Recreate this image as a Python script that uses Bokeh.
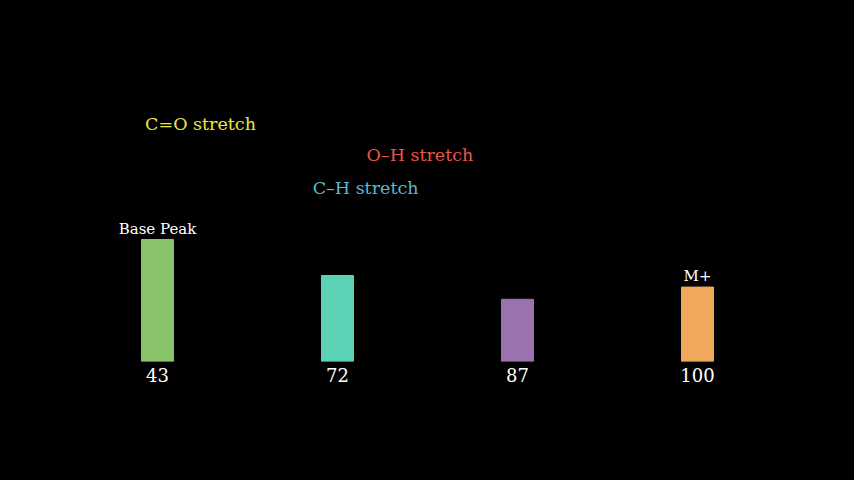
from bokeh.plotting import figure
from bokeh.models import ColumnDataSource, Range1d, FactorRange, Label
from bokeh.embed import file_html
from bokeh.resources import INLINE

mz = ["43", "72", "87", "100"]
intensity = [100, 70.5, 51, 61]
colors = ["#89C46A", "#5BD1B5", "#9B72B0", "#F0A95C"]
peak_labels = ["Base Peak", "", "", "M+"]
annotations = ["C=O stretch", "O\u2013H stretch", "C\u2013H stretch"]
annotation_colors = ["#EEE63C", "#E8564A", "#5BB8D4"]

FONT = "DejaVu Serif"

src = ColumnDataSource(dict(mz=mz, intensity=intensity, colors=colors, lab=peak_labels))

p = figure(x_range=FactorRange(*mz, range_padding=0), y_range=Range1d(0, 240.2),
           width=854, height=480, output_backend="svg", toolbar_location=None,
           min_border_left=67, min_border_right=67, min_border_top=68, min_border_bottom=119,
           background_fill_color=None, border_fill_color=None,
           outline_line_color=None)
p.styles = {"background-color": "black"}

p.vbar(x="mz", top="intensity", width=32/180, color="colors", source=src)
p.text(x="mz", y="intensity", text="lab", source=src, text_color="white",
       text_font={"value": FONT}, text_font_size="15px", text_align="center",
       text_baseline="bottom", y_offset=-2)

ann_pos = [(0.739, 195), (1.958, 169), (1.656, 142.6)]
for t, c, (ax, ay) in zip(annotations, annotation_colors, ann_pos):
    p.add_layout(Label(x=ax, y=ay, text=t, text_color=c, text_font=FONT,
                       text_font_size="17.5px", text_align="center", text_baseline="middle"))

p.grid.visible = False
p.yaxis.visible = False
p.xaxis.axis_line_color = None
p.xaxis.major_tick_line_color = None
p.xaxis.minor_tick_line_color = None
p.xaxis.major_label_text_color = "white"
p.xaxis.major_label_text_font = FONT
p.xaxis.major_label_text_font_size = "18px"
p.xaxis.major_label_standoff = 0

open("out.html", "w").write(file_html(p, INLINE))
